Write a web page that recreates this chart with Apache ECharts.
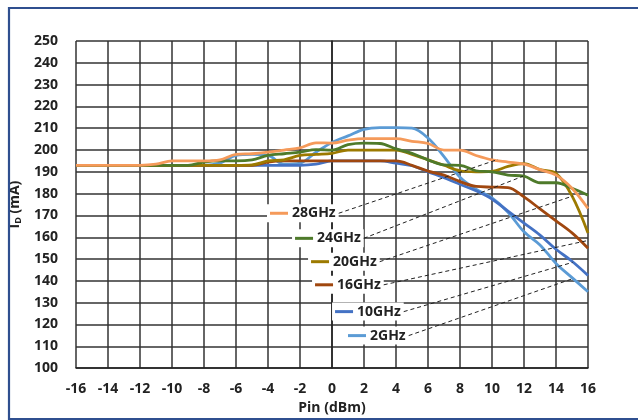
<!DOCTYPE html>
<html>
<head>
<meta charset="utf-8">
<script src="https://cdn.jsdelivr.net/npm/echarts@6/dist/echarts.min.js"></script>
<style>
html,body{margin:0;padding:0;background:#fff;}
#c{width:638px;height:420px;}
</style>
</head>
<body>
<div id="c"></div>
<script>
// ---- data ----
const pin = [-16,-15,-14,-13,-12,-11,-10,-9,-8,-7,-6,-5,-4,-3,-2,-1,0,1,2,3,4,5,6,7,8,9,10,11,12,13,14,15,16];
const names = ['2GHz','10GHz','16GHz','20GHz','24GHz','28GHz'];
const id2GHz  = [193,193,193,193,193,193,193,193,193,194,197.5,198,197.5,193.5,194,199,203.5,206.5,209.5,210.3,210.3,210,205.5,197,187.5,182,178,171.5,162.5,156.5,148,141.5,135];
const id10GHz = [193,193,193,193,193,193,193,193,193,193,193,193,193,193,193,193.5,195,195,195,195,194,192.8,190,187.3,184.3,181.3,177.5,172,166.5,161,154.5,149,142.5];
const id16GHz = [193,193,193,193,193,193,193,193,193,193,193,193,194.5,195,195,195,195,195,195,195,195,193,190.3,188.5,185.5,183.3,183,182.8,178.5,173,167.5,162,155];
const id20GHz = [193,193,193,193,193,193,193,193,193,193,193,193.2,195,195.5,197.5,198,198.5,200,200,200,200,198,195.5,193,190.5,190,190.2,192.5,193.8,191,189.3,179,162];
const id24GHz = [193,193,193,193,193,193,193,193,194.5,195,195,195.5,197.5,198.3,199,200.2,200,202.5,203.2,203,200.5,198.5,195.5,193.2,193,190.5,190,188.5,188,185,185,182.5,179.3];
const id28GHz = [193,193,193,193,193,193.5,195,195,195,195.5,198,198.3,199,200,201,203.3,203.2,204.5,205.2,205.2,205.2,204,203,200,200,197.5,195.5,194.5,193.5,191,188.5,182.5,173.2];
const xTicks = [-16,-14,-12,-10,-8,-6,-4,-2,0,2,4,6,8,10,12,14,16];
const yTicks = [100,110,120,130,140,150,160,170,180,190,200,210,220,230,240,250];

// ---- styles / layout ----
const allData = [id2GHz,id10GHz,id16GHz,id20GHz,id24GHz,id28GHz];
const colors = ['#5B9BD5','#4472C4','#A0470F','#9C7A00','#4E7A2A','#F59A5A'];
const FONT = "'Open Sans', 'DejaVu Sans', sans-serif";
// callout label anchors (data coords) and leader-line targets (data coords), same order as names
const calloutAnchor = [[1.0,114.9],[0.19,125.9],[-1.06,138.2],[-1.31,148.8],[-2.31,159.5],[-3.875,171.0]];
const calloutTarget = [[15.0,140.9],[15.04,148.5],[15.92,158.4],[15.04,178.9],[11.94,188.0],[10.375,195.7]];

const chart = echarts.init(document.getElementById('c'), null, {renderer:'canvas'});

const series = names.map((n,i)=>({
  name:n, type:'line', smooth:0.35, symbol:'none',
  data: pin.map((x,k)=>[x, allData[i][k]]),
  lineStyle:{color:colors[i], width:2.8},
  itemStyle:{color:colors[i]},
  z: 2+i
}));

const axisLabelStyle = {color:'#222', fontSize:14, fontWeight:'bold', fontFamily:FONT};

chart.setOption({
  animation:false,
  backgroundColor:'#fff',
  grid:{left:76, right:50, top:41, bottom:51, containLabel:false},
  xAxis:{
    type:'value', min:-16, max:16, interval:2,
    axisLine:{show:true, lineStyle:{color:'#222', width:1.5}},
    axisTick:{show:false},
    splitLine:{show:true, lineStyle:{color:'#333', width:1.5}},
    axisLabel:Object.assign({margin:14, formatter:v=>xTicks.includes(v)?String(v):''}, axisLabelStyle),
    name:'Pin (dBm)', nameLocation:'middle', nameGap:32,
    nameTextStyle:{color:'#222', fontSize:14, fontWeight:'bold', fontFamily:FONT}
  },
  yAxis:{
    type:'value', min:100, max:250, interval:10,
    axisLine:{show:true, lineStyle:{color:'#222', width:1.5}},
    axisTick:{show:false},
    splitLine:{show:true, lineStyle:{color:'#333', width:1.5}},
    axisLabel:Object.assign({margin:18, formatter:v=>yTicks.includes(v)?String(v):''}, axisLabelStyle),
    name:'{i|I}{d|D}{i| (mA)}', nameLocation:'middle', nameGap:46, nameRotate:90,
    nameTextStyle:{
      color:'#222', fontFamily:FONT, fontWeight:'bold',
      rich:{
        i:{fontSize:14, fontWeight:'bold', fontFamily:FONT, color:'#222', lineHeight:16},
        d:{fontSize:9, fontWeight:'bold', fontFamily:FONT, color:'#222', lineHeight:6, verticalAlign:'bottom'}
      }
    }
  },
  series: series
});

// ---- callout legend ----
const mc = document.createElement('canvas').getContext('2d');
mc.font = "bold 14px 'Open Sans'";
const graphics = [];
// outer frame
graphics.push({type:'rect', shape:{x:9, y:8, width:640, height:411}, style:{fill:null, stroke:'#2F4F8F', lineWidth:2.2}, z:100, silent:true});
names.forEach((n,i)=>{
  const a = chart.convertToPixel({gridIndex:0}, calloutAnchor[i]);
  const t = chart.convertToPixel({gridIndex:0}, calloutTarget[i]);
  const tw = mc.measureText(n).width;
  const sampleLen = 18, gap = 4;
  const textX = a[0] + sampleLen + gap;
  const endX = textX + tw + 3;
  graphics.push({type:'rect', shape:{x:a[0]-3, y:a[1]-9, width:endX-a[0]+3, height:18}, style:{fill:'#fff'}, z:50, silent:true});
  graphics.push({type:'line', shape:{x1:a[0], y1:a[1], x2:a[0]+sampleLen, y2:a[1]}, style:{stroke:colors[i], lineWidth:3}, z:51, silent:true});
  graphics.push({type:'text', x:textX, y:a[1], style:{text:n, font:"bold 14px 'Open Sans'", fill:'#222', textVerticalAlign:'middle', verticalAlign:'middle'}, z:51, silent:true});
  graphics.push({type:'line', shape:{x1:endX, y1:a[1], x2:t[0], y2:t[1]}, style:{stroke:'#222', lineWidth:1, lineDash:[4,3]}, z:51, silent:true});
});
chart.setOption({graphic:graphics});
</script>
</body>
</html>
